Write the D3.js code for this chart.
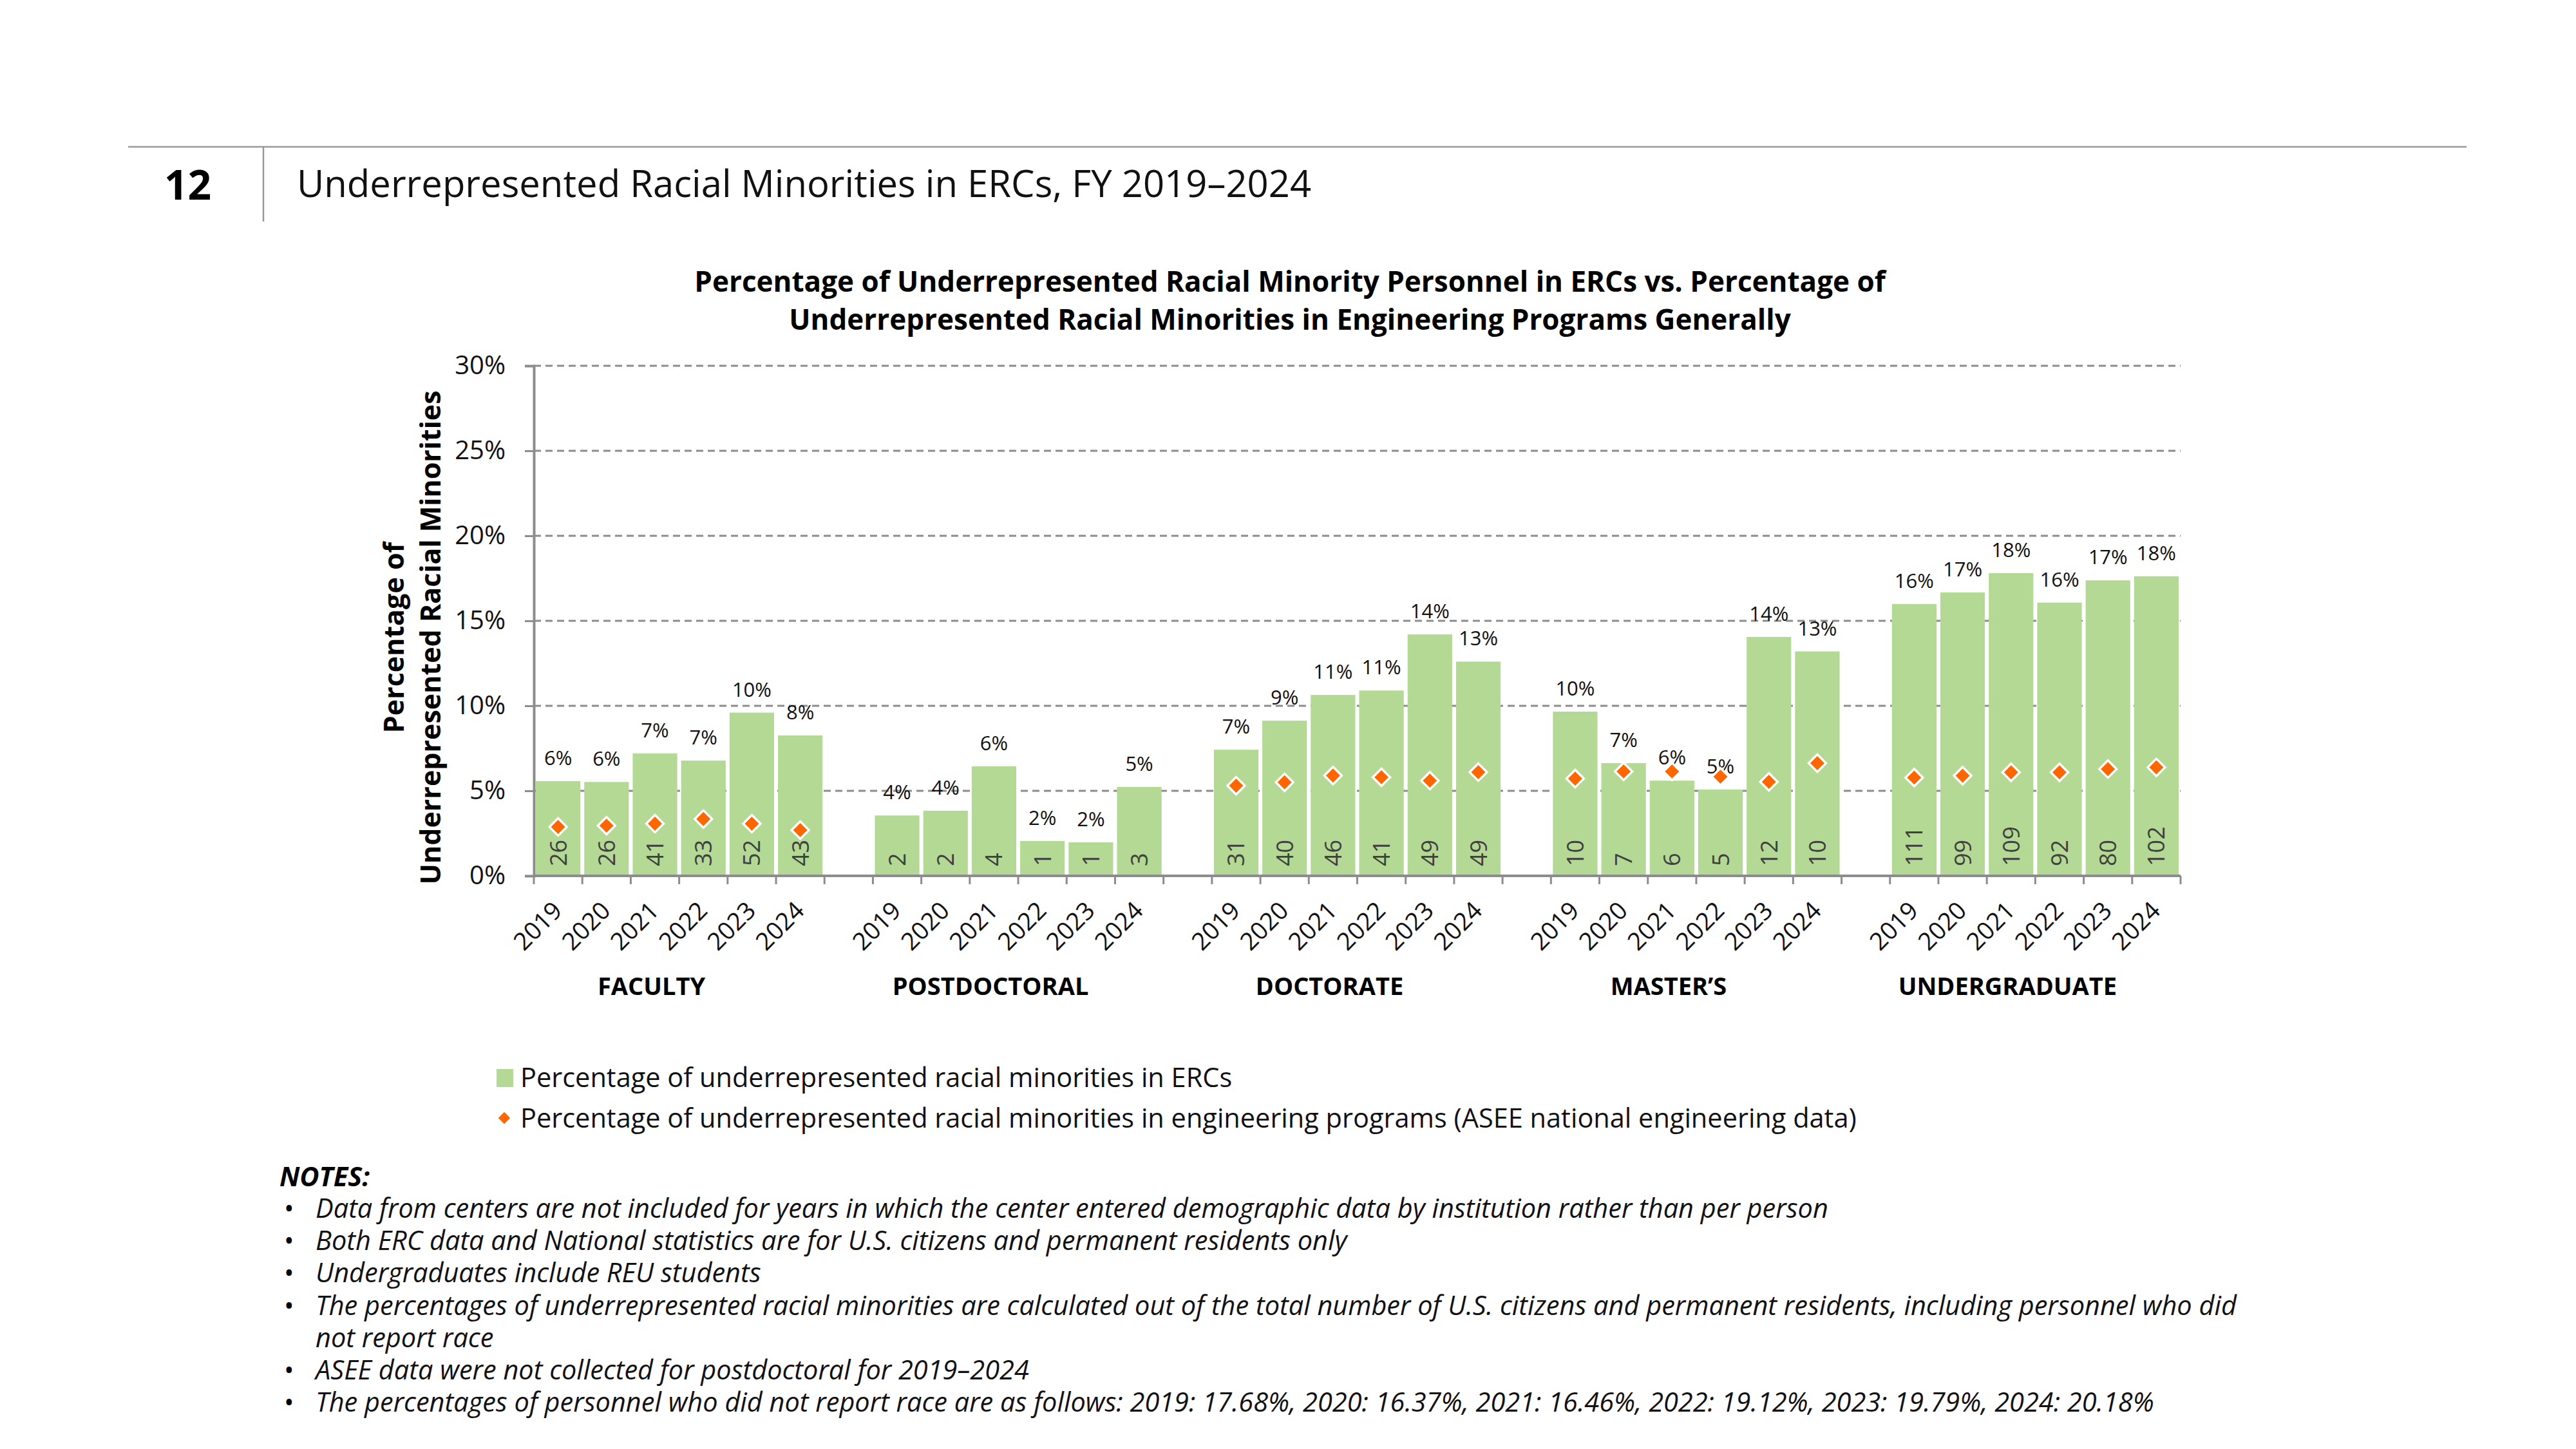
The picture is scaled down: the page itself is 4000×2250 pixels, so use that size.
<!DOCTYPE html>
<html>
<head>
<meta charset="utf-8">
<script src="https://cdn.jsdelivr.net/npm/d3@7"></script>
<style>
  body { margin: 0; background: #fff; }
  text { font-family: "Open Sans", sans-serif; }
</style>
</head>
<body>
<svg id="chart"></svg>
<script>
// groups and years on the category axis
const groups = ["FACULTY", "POSTDOCTORAL", "DOCTORATE", "MASTER\u2019S", "UNDERGRADUATE"];
const years = ["2019", "2020", "2021", "2022", "2023", "2024"];

// % of URM personnel in ERCs (bars), one row per group
const ercPct = [
  [5.57, 5.52, 7.2, 6.78, 9.6, 8.26],
  [3.55, 3.83, 6.44, 2.05, 1.97, 5.23],
  [7.42, 9.13, 10.64, 10.9, 14.2, 12.6],
  [9.66, 6.63, 5.6, 5.08, 14.05, 13.2],
  [15.99, 16.67, 17.8, 16.07, 17.38, 17.62]
];
// head counts printed inside the bars
const ercCount = [
  [26, 26, 41, 33, 52, 43],
  [2, 2, 4, 1, 1, 3],
  [31, 40, 46, 41, 49, 49],
  [10, 7, 6, 5, 12, 10],
  [111, 99, 109, 92, 80, 102]
];
// ASEE national engineering % (diamonds); no postdoctoral data
const aseePct = [
  [2.88, 2.95, 3.07, 3.34, 3.07, 2.69],
  null,
  [5.3, 5.5, 5.9, 5.8, 5.6, 6.1],
  [5.72, 6.14, 6.14, 5.83, 5.53, 6.63],
  [5.78, 5.89, 6.09, 6.09, 6.28, 6.38]
];
const yTicks = [0, 5, 10, 15, 20, 25, 30];

const notes = [
  "Data from centers are not included for years in which the center entered demographic data by institution rather than per person",
  "Both ERC data and National statistics are for U.S. citizens and permanent residents only",
  "Undergraduates include REU students",
  "The percentages of underrepresented racial minorities are calculated out of the total number of U.S. citizens and permanent residents, including personnel who did|not report race",
  "ASEE data were not collected for postdoctoral for 2019\u20132024",
  "The percentages of personnel who did not report race are as follows: 2019: 17.68%, 2020: 16.37%, 2021: 16.46%, 2022: 19.12%, 2023: 19.79%, 2024: 20.18%"
];

const width = 4000, height = 2250;
const green = "#b3d995", orange = "#ff6600", grid = "#8c8c8c";

const svg = d3.select("#chart")
  .attr("width", width)
  .attr("height", height)
  .style("background", "#fff");

// flat rows; blank slots between groups like the Excel original
const slots = [];
const rows = [];
groups.forEach((g, gi) => {
  years.forEach((yr, yi) => {
    const key = g + "|" + yr;
    slots.push(key);
    rows.push({ key, group: gi, year: yr, pct: ercPct[gi][yi], n: ercCount[gi][yi],
      asee: aseePct[gi] ? aseePct[gi][yi] : null });
  });
  if (gi < groups.length - 1) slots.push("gap" + gi);
});

const plotL = 829, plotR = 3386, plotT = 568, plotB = 1360;

const x = d3.scaleBand().domain(slots).range([plotL, plotR]).padding(0);
const y = d3.scaleLinear().domain([0, 30]).range([plotB, plotT]);

// header
svg.append("line").attr("x1", 199).attr("x2", 3830).attr("y1", 228).attr("y2", 228)
  .attr("stroke", "#999").attr("stroke-width", 2.5);
svg.append("line").attr("x1", 409).attr("x2", 409).attr("y1", 228).attr("y2", 344)
  .attr("stroke", "#999").attr("stroke-width", 2.5);
svg.append("text").attr("x", 255).attr("y", 310).attr("font-size", 64).attr("font-weight", 700)
  .text("12");
svg.append("text").attr("x", 461).attr("y", 306).attr("font-size", 58).attr("fill", "#111")
  .text("Underrepresented Racial Minorities in ERCs, FY 2019\u20132024");

// chart title
const title = svg.append("text").attr("text-anchor", "middle").attr("font-size", 44)
  .attr("font-weight", 700);
title.append("tspan").attr("x", 2003).attr("y", 453)
  .text("Percentage of Underrepresented Racial Minority Personnel in ERCs vs. Percentage of");
title.append("tspan").attr("x", 2003).attr("y", 512)
  .text("Underrepresented Racial Minorities in Engineering Programs Generally");

// y axis title
const yt = svg.append("text").attr("text-anchor", "middle").attr("font-size", 43)
  .attr("font-weight", 700).attr("transform", "translate(0,990) rotate(-90)");
yt.append("tspan").attr("x", 0).attr("y", 627).text("Percentage of");
yt.append("tspan").attr("x", 0).attr("y", 684).text("Underrepresented Racial Minorities");

// gridlines
svg.append("g").selectAll("line").data(yTicks.filter(d => d > 0)).join("line")
  .attr("x1", plotL).attr("x2", plotR)
  .attr("y1", d => y(d)).attr("y2", d => y(d))
  .attr("stroke", grid).attr("stroke-width", 3).attr("stroke-dasharray", "11,7");

// y axis
const yAxis = svg.append("g").attr("transform", `translate(${plotL},0)`)
  .call(d3.axisLeft(y).tickValues(yTicks).tickFormat(d => d + "%").tickSize(14).tickPadding(30));
yAxis.select(".domain").attr("stroke", grid).attr("stroke-width", 4);
yAxis.selectAll(".tick line").attr("stroke", grid).attr("stroke-width", 3);
yAxis.selectAll(".tick text").attr("font-size", 40).attr("fill", "#111")
  .attr("font-family", "Open Sans, sans-serif");

// bars
const inset = x.bandwidth() * 0.04;
svg.append("g").selectAll("rect").data(rows).join("rect")
  .attr("x", d => x(d.key) + inset)
  .attr("width", x.bandwidth() - 2 * inset)
  .attr("y", d => y(d.pct))
  .attr("height", d => y(0) - y(d.pct))
  .attr("fill", green);

// percentage labels
svg.append("g").selectAll("text").data(rows).join("text")
  .attr("x", d => x(d.key) + x.bandwidth() / 2)
  .attr("y", d => y(d.pct) - 25)
  .attr("text-anchor", "middle").attr("font-size", 31).attr("fill", "#111")
  .text(d => Math.round(d.pct) + "%");

// counts inside bars
svg.append("g").selectAll("text").data(rows).join("text")
  .attr("transform", d => `translate(${x(d.key) + x.bandwidth() / 2 + 13},${plotB - 15}) rotate(-90)`)
  .attr("font-size", 36).attr("fill", "#404040")
  .text(d => d.n);

// ASEE diamonds
svg.append("g").selectAll("rect").data(rows.filter(d => d.asee != null)).join("rect")
  .attr("x", -9.5).attr("y", -9.5).attr("width", 19).attr("height", 19)
  .attr("transform", d => `translate(${x(d.key) + x.bandwidth() / 2},${y(d.asee)}) rotate(45)`)
  .attr("fill", orange).attr("stroke", "#fff").attr("stroke-width", 3.5);

// x axis line and slot ticks
svg.append("line").attr("x1", plotL).attr("x2", plotR).attr("y1", plotB).attr("y2", plotB)
  .attr("stroke", grid).attr("stroke-width", 4);
svg.append("g").selectAll("line").data(slots.concat(["end"])).join("line")
  .attr("x1", d => d === "end" ? plotR : x(d)).attr("x2", d => d === "end" ? plotR : x(d))
  .attr("y1", plotB).attr("y2", plotB + 13)
  .attr("stroke", grid).attr("stroke-width", 3);

// year labels
svg.append("g").selectAll("text").data(rows).join("text")
  .attr("transform", d => `translate(${x(d.key) + x.bandwidth() / 2 - 1},${plotB + 47}) rotate(-45)`)
  .attr("text-anchor", "end").attr("dy", "0.35em").attr("font-size", 38).attr("fill", "#111")
  .text(d => d.year);

// group labels, sitting a little left of the group centre as in the original
svg.append("g").selectAll("text").data(groups).join("text")
  .attr("x", g => {
    const a = x(g + "|" + years[0]), b = x(g + "|" + years[years.length - 1]) + x.bandwidth();
    return (a + b) / 2 - 43;
  })
  .attr("y", 1545).attr("text-anchor", "middle").attr("font-size", 38).attr("font-weight", 700)
  .text(g => g);

// legend
svg.append("rect").attr("x", 771).attr("y", 1660).attr("width", 26).attr("height", 28).attr("fill", green);
svg.append("text").attr("x", 808).attr("y", 1688).attr("font-size", 41.5).attr("fill", "#111")
  .text("Percentage of underrepresented racial minorities in ERCs");
svg.append("rect").attr("x", -6.5).attr("y", -6.5).attr("width", 13).attr("height", 13)
  .attr("transform", "translate(783,1736) rotate(45)").attr("fill", orange);
svg.append("text").attr("x", 808).attr("y", 1751).attr("font-size", 41.5).attr("fill", "#111")
  .text("Percentage of underrepresented racial minorities in engineering programs (ASEE national engineering data)");

// notes
svg.append("text").attr("x", 434).attr("y", 1842).attr("font-size", 41.5)
  .attr("font-weight", 700).attr("font-style", "italic").text("NOTES:");
let lineY = 1891;
notes.forEach(n => {
  svg.append("text").attr("x", 441).attr("y", lineY).attr("font-size", 41.5).text("\u2022");
  n.split("|").forEach(part => {
    svg.append("text").attr("x", 490).attr("y", lineY).attr("font-size", 41.5)
      .attr("font-style", "italic").attr("fill", "#111").text(part);
    lineY += 50.2;
  });
});
</script>
</body>
</html>
